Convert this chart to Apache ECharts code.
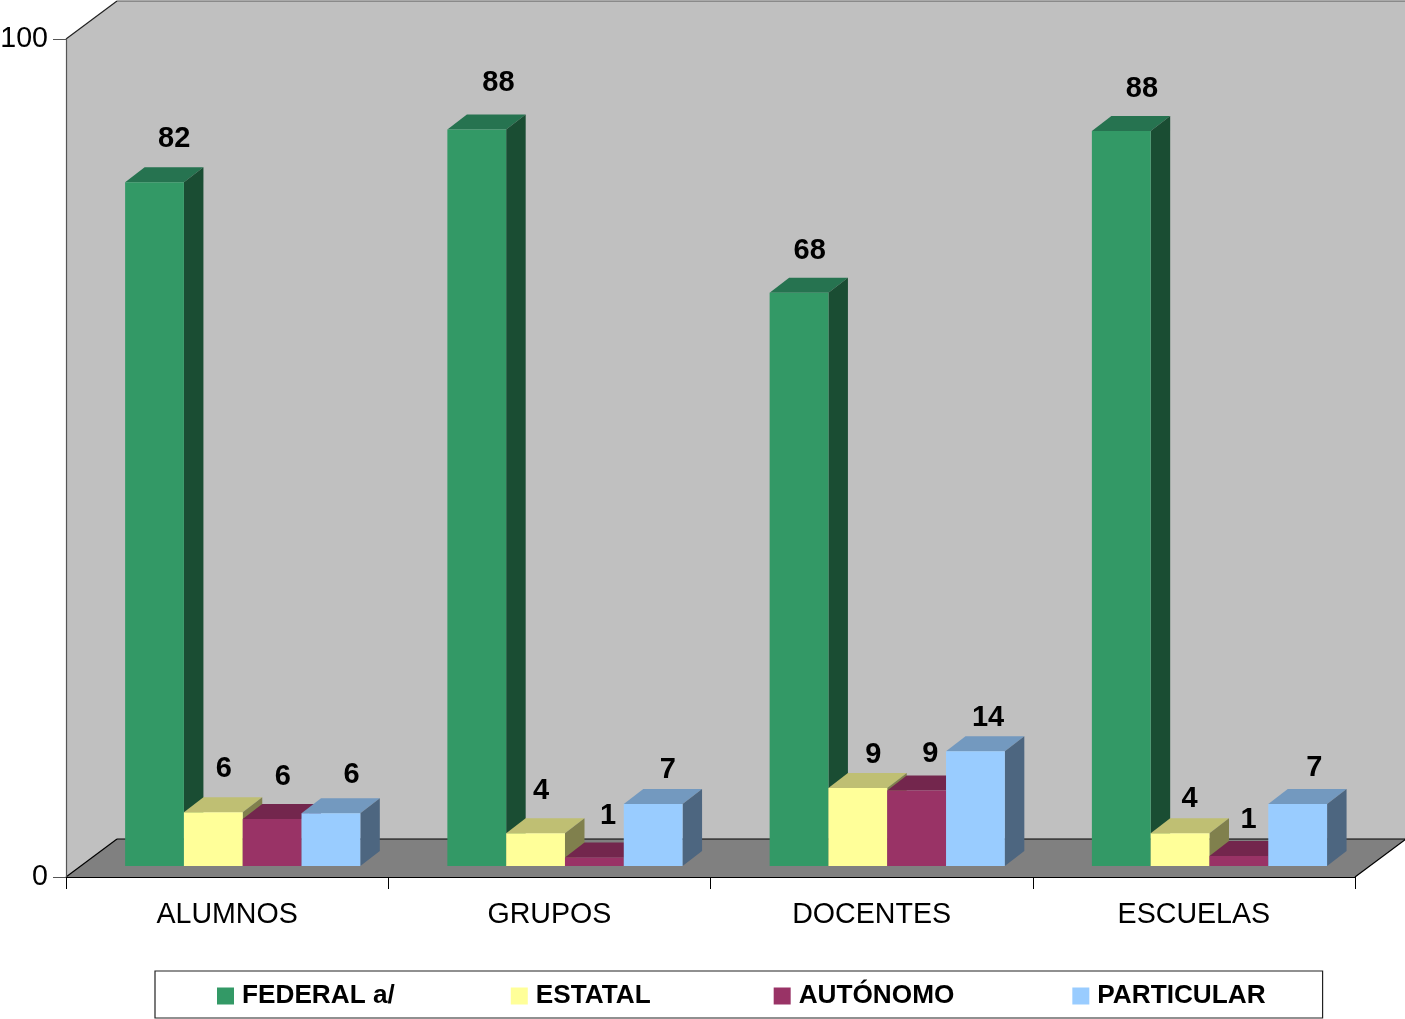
<!DOCTYPE html>
<html>
<head>
<meta charset="utf-8">
<title>Chart</title>
<script src="https://cdn.jsdelivr.net/npm/echarts@6/dist/echarts.min.js"></script>
<style>
  html, body { margin: 0; padding: 0; background: #fff; }
  #main { width: 1405px; height: 1019px; }
</style>
</head>
<body>
<div id="main"></div>
<script>
var categories = ['ALUMNOS', 'GRUPOS', 'DOCENTES', 'ESCUELAS'];
var federal = [81.6, 87.9, 68.4, 87.7];
var estatal = [6.4, 3.9, 9.3, 3.9];
var autonomo = [5.6, 1.0, 9.0, 1.2];
var particular = [6.3, 7.4, 13.7, 7.4];
var yTicks = [0, 100];

var seriesNames = ['FEDERAL a/', 'ESTATAL', 'AUTÓNOMO', 'PARTICULAR'];
var seriesValues = [federal, estatal, autonomo, particular];
var colors = ['#339966', '#FFFF99', '#993366', '#99CCFF'];
var topColors = ['#267350', '#BFBF73', '#73264D', '#7399BF'];
var sideColors = ['#1A4D33', '#80804D', '#4D1A33', '#4D6680'];

// label position relative to the top left corner of each bar, per series and category
var labelNudge = [
  [[49, -43], [51, -46], [40, -42], [50, -42]],
  [[40, -43], [35, -42], [45, -33], [39, -34]],
  [[40, -42], [43, -42], [43, -37], [39, -36]],
  [[50, -38], [44, -34], [42, -33], [46, -36]]
];

var font = '"Liberation Sans", Arial, sans-serif';
var floorDepth = [51, -38];
var barDepth = [19.5, -15];
var barShift = [-102, -11]; // first bar's left edge from the category centre, base above the axis
var barWidth = 58.8;

function poly(points, fill) {
  return { type: 'polygon', shape: { points: points }, style: { fill: fill } };
}

function line(a, b, color) {
  return {
    type: 'line',
    shape: { x1: a[0], y1: a[1], x2: b[0], y2: b[1] },
    style: { stroke: color, lineWidth: 1.2 }
  };
}

function renderWalls(params, api) {
  var cs = params.coordSys;
  var x0 = cs.x, x1 = cs.x + cs.width;
  var yTop = cs.y, yBase = cs.y + cs.height;
  var dx = floorDepth[0], dy = floorDepth[1];
  return {
    type: 'group',
    children: [
      poly([[x0, yBase], [x0, yTop], [x0 + dx, yTop + dy], [x1 + dx, yTop + dy], [x1 + dx, yBase + dy], [x0 + dx, yBase + dy]], '#C0C0C0'),
      poly([[x0, yBase], [x0 + dx, yBase + dy], [x1 + dx, yBase + dy], [x1, yBase]], '#808080'),
      line([x0, yTop], [x0 + dx, yTop + dy], '#222'),
      line([x0 + dx, yTop + dy], [x1 + dx, yTop + dy], '#555'),
      line([x0, yBase], [x0 + dx, yBase + dy], '#000'),
      line([x0 + dx, yBase + dy], [x1 + dx, yBase + dy], '#000'),
      line([x1, yBase], [x1 + dx, yBase + dy], '#000')
    ]
  };
}

function renderBar(s) {
  return function (params, api) {
    var cat = api.value(0);
    var val = api.value(1);
    var top = api.coord([cat, val]);
    var base = api.coord([cat, 0]);
    var x = top[0] + barShift[0] + s * barWidth;
    var xr = x + barWidth;
    var yt = top[1] + barShift[1];
    var yb = base[1] + barShift[1];
    var dx = barDepth[0], dy = barDepth[1];
    var nudge = labelNudge[s][cat];
    return {
      type: 'group',
      children: [
        poly([[x, yt], [x + dx, yt + dy], [xr + dx, yt + dy], [xr, yt]], topColors[s]),
        poly([[xr, yt], [xr + dx, yt + dy], [xr + dx, yb + dy], [xr, yb]], sideColors[s]),
        poly([[x, yt], [xr, yt], [xr, yb], [x, yb]], colors[s]),
        {
          type: 'text',
          style: {
            x: x + nudge[0],
            y: yt + nudge[1],
            text: String(Math.round(val)),
            fill: '#000',
            fontFamily: font,
            fontWeight: 'bold',
            fontSize: 29,
            align: 'center',
            verticalAlign: 'middle'
          }
        }
      ]
    };
  };
}

var series = [{
  name: 'walls',
  type: 'custom',
  silent: true,
  z: 1,
  renderItem: renderWalls,
  data: [[0, 0]]
}];

seriesNames.forEach(function (name, s) {
  series.push({
    name: name,
    type: 'custom',
    z: 2 + s,
    itemStyle: { color: colors[s] },
    renderItem: renderBar(s),
    data: seriesValues[s].map(function (v, i) { return [i, v]; })
  });
});

// extra room after some legend names, the reference's text is set without kerning
// the room is one space whose font size gives the wanted width
var legendRoom = [0, 7, 2, 0];
var legendRich = {
  name: { fontFamily: font, fontWeight: 'bold', fontSize: 26.2, color: '#000', padding: [0, 0, 0, 3] }
};
legendRoom.forEach(function (room, i) {
  legendRich['g' + i] = { fontFamily: font, fontSize: room / 0.278 };
});

var chart = echarts.init(document.getElementById('main'));

chart.setOption({
  animation: false,
  backgroundColor: '#fff',
  grid: { left: 66, top: 39, width: 1289, height: 838, outerBoundsMode: 'none' },
  legend: {
    data: seriesNames,
    left: 155,
    top: 971,
    orient: 'horizontal',
    icon: 'rect',
    itemWidth: 17,
    itemHeight: 17,
    itemGap: 116,
    padding: [12, 57, 9, 62],
    borderColor: '#222',
    borderWidth: 1.2,
    selectedMode: false,
    formatter: function (name) {
      var room = legendRoom[seriesNames.indexOf(name)];
      var text = '{name|' + name + '}';
      return room ? text + '{g' + seriesNames.indexOf(name) + '| }' : text;
    },
    textStyle: {
      fontFamily: font,
      fontWeight: 'bold',
      fontSize: 26.2,
      color: '#000',
      rich: legendRich
    }
  },
  xAxis: {
    type: 'category',
    data: categories,
    z: 10,
    axisLine: { lineStyle: { color: '#000', width: 1.2 } },
    axisTick: { show: true, length: 12, alignWithLabel: false, lineStyle: { color: '#000' } },
    axisLabel: { fontFamily: font, fontSize: 28.6, color: '#000', margin: 24 }
  },
  yAxis: {
    type: 'value',
    min: yTicks[0],
    max: yTicks[1],
    interval: yTicks[1] - yTicks[0],
    z: 10,
    axisLine: { show: true, lineStyle: { color: '#555', width: 1.2 } },
    axisTick: { show: true, length: 13, lineStyle: { color: '#555' } },
    splitLine: { show: false },
    axisLabel: { fontFamily: font, fontSize: 28.6, color: '#000', margin: 18, padding: [8, 0, 0, 0] }
  },
  series: series
});
</script>
</body>
</html>
